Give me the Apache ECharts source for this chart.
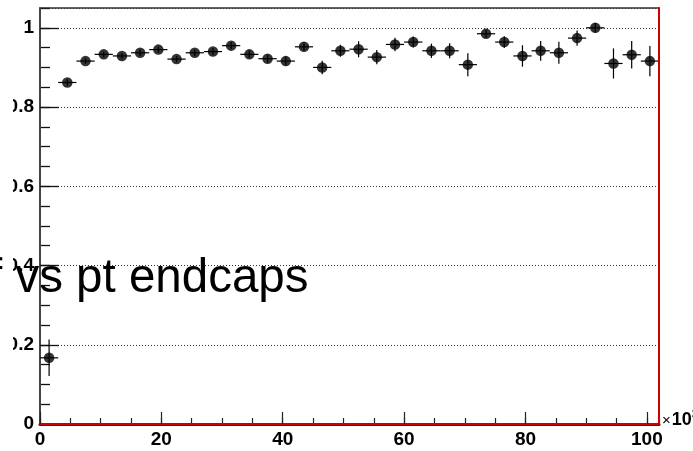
<!DOCTYPE html>
<html>
<head>
<meta charset="utf-8">
<script src="https://cdn.jsdelivr.net/npm/echarts@6/dist/echarts.min.js"></script>
<style>
  html, body { margin: 0; padding: 0; background: #fff; }
  #chart { width: 693px; height: 451px; }
</style>
</head>
<body>
<div id="chart"></div>
<script>
// Efficiency per pt bin (x in units of 10^3), bin width 3
const binCenters = [1.5, 4.5, 7.5, 10.5, 13.5, 16.5, 19.5, 22.5, 25.5, 28.5,
  31.5, 34.5, 37.5, 40.5, 43.5, 46.5, 49.5, 52.5, 55.5, 58.5,
  61.5, 64.5, 67.5, 70.5, 73.5, 76.5, 79.5, 82.5, 85.5, 88.5,
  91.5, 94.5, 97.5, 100.5];
const efficiency = [0.167, 0.862, 0.916, 0.933, 0.929, 0.937, 0.945, 0.921, 0.937, 0.940,
  0.955, 0.933, 0.922, 0.916, 0.952, 0.900, 0.942, 0.946, 0.926, 0.958,
  0.964, 0.942, 0.942, 0.907, 0.985, 0.964, 0.929, 0.942, 0.937, 0.974,
  1.000, 0.910, 0.932, 0.916];
const efficiencyError = [0.046, 0.008, 0.007, 0.007, 0.007, 0.008, 0.008, 0.008, 0.008, 0.009,
  0.009, 0.010, 0.010, 0.011, 0.010, 0.017, 0.015, 0.020, 0.018, 0.017,
  0.014, 0.018, 0.019, 0.029, 0.010, 0.015, 0.027, 0.025, 0.028, 0.019,
  0.012, 0.038, 0.035, 0.038];
const binHalfWidth = 1.5;
const xTickLabels = ['0', '20', '40', '60', '80', '100'];
const yTickLabels = ['0', '0.2', '0.4', '0.6', '0.8', '1'];
const titleText = 'Eff vs pt endcaps';

const points = binCenters.map((x, i) => [x, efficiency[i], efficiencyError[i]]);

const fontFamily = '"Liberation Sans", Arial, sans-serif';
const labelFont = {
  fontFamily: fontFamily,
  fontWeight: 'bold',
  fontSize: 19,
  color: '#000'
};

function xLabel(v) {
  const idx = Math.round(v / 20);
  return Math.abs(v - idx * 20) < 1e-6 && xTickLabels[idx] !== undefined ? xTickLabels[idx] : '';
}
function yLabel(v) {
  const idx = Math.round(v / 0.2);
  return Math.abs(v - idx * 0.2) < 1e-6 && yTickLabels[idx] !== undefined ? yTickLabels[idx] : '';
}

const chart = echarts.init(document.getElementById('chart'), null, { renderer: 'canvas' });

chart.setOption({
  animation: false,
  backgroundColor: '#fff',
  grid: { left: 40, top: 8, right: 34, bottom: 27, containLabel: false },
  xAxis: [
    {
      type: 'value', position: 'bottom', min: 0, max: 102, interval: 20, z: 10,
      axisLine: { show: true, onZero: false, lineStyle: { color: '#d00000', width: 2 } },
      axisTick: { show: true, inside: true, length: 12, lineStyle: { color: '#222', width: 1.2 } },
      axisLabel: Object.assign({ margin: 6, formatter: xLabel, showMaxLabel: false }, labelFont),
      splitLine: { show: false }
    },
    {
      type: 'value', position: 'bottom', min: 0, max: 102, interval: 5, z: 9,
      axisLine: { show: true, onZero: false, lineStyle: { color: '#222', width: 3 } },
      axisTick: { show: true, inside: true, length: 6, lineStyle: { color: '#222', width: 1.2 } },
      axisLabel: { show: false },
      splitLine: { show: false }
    },
    {
      type: 'value', position: 'top', min: 0, max: 102,
      axisLine: { show: true, onZero: false, lineStyle: { color: '#333', width: 1.5 } },
      axisTick: { show: false },
      axisLabel: { show: false },
      splitLine: { show: false }
    }
  ],
  yAxis: [
    {
      type: 'value', position: 'left', min: 0, max: 1.05, interval: 0.2, z: 2,
      axisLine: { show: true, onZero: false, lineStyle: { color: '#444', width: 2 } },
      axisTick: { show: true, inside: true, length: 19, lineStyle: { color: '#111', width: 1.3 } },
      axisLabel: Object.assign({ margin: 6, formatter: yLabel, showMaxLabel: false }, labelFont),
      splitLine: { show: true, lineStyle: { color: '#333', width: 1, type: [1, 2] } }
    },
    {
      type: 'value', position: 'left', min: 0, max: 1.05, interval: 0.05, z: 1,
      axisLine: { show: false },
      axisTick: { show: true, inside: true, length: 10, lineStyle: { color: '#111', width: 1.3 } },
      axisLabel: { show: false },
      splitLine: { show: false }
    },
    {
      type: 'value', position: 'right', min: 0, max: 1.05, z: 10,
      axisLine: { show: true, onZero: false, lineStyle: { color: '#d00000', width: 2 } },
      axisTick: { show: false },
      axisLabel: { show: false },
      splitLine: { show: false }
    }
  ],
  series: [
    {
      type: 'custom',
      xAxisIndex: 0,
      yAxisIndex: 0,
      data: points,
      z: 3,
      renderItem: function (params, api) {
        const x = api.value(0), y = api.value(1), e = api.value(2);
        const c = api.coord([x, y]);
        const top = api.coord([x, y + e]);
        const bot = api.coord([x, y - e]);
        const l = api.coord([x - binHalfWidth, y]);
        const r = api.coord([x + binHalfWidth, y]);
        const style = { stroke: '#000', lineWidth: 1.2 };
        return {
          type: 'group',
          children: [
            { type: 'line', shape: { x1: l[0], y1: c[1], x2: r[0], y2: c[1] }, style: style },
            { type: 'line', shape: { x1: c[0], y1: top[1], x2: c[0], y2: bot[1] }, style: style }
          ]
        };
      }
    },
    {
      type: 'scatter',
      xAxisIndex: 0,
      yAxisIndex: 0,
      data: points.map(p => [p[0], p[1]]),
      symbol: 'circle',
      symbolSize: 10.5,
      itemStyle: { color: '#000' },
      z: 4
    }
  ],
  graphic: [
    {
      type: 'rect', z: 100,
      shape: { x: 0, y: 0, width: 13, height: 400 },
      style: { fill: '#fff' }
    },
    {
      type: 'text', z: 101,
      x: -55, y: 279,
      style: {
        text: titleText,
        font: '47.5px ' + fontFamily,
        fill: '#000',
        verticalAlign: 'middle'
      }
    },
    {
      type: 'text', z: 101,
      x: 662, y: 420,
      style: {
        text: '{times|×}10{sup|3}',
        font: 'bold 18px ' + fontFamily,
        fill: '#000',
        verticalAlign: 'middle',
        rich: {
          times: { fontSize: 15, fontWeight: 'normal', fontFamily: fontFamily, padding: [2, 1, 0, 0] },
          sup: { fontSize: 12, fontWeight: 'bold', fontFamily: fontFamily, verticalAlign: 'top', padding: [0, 0, 10, 0] }
        }
      }
    }
  ]
});
</script>
</body>
</html>
